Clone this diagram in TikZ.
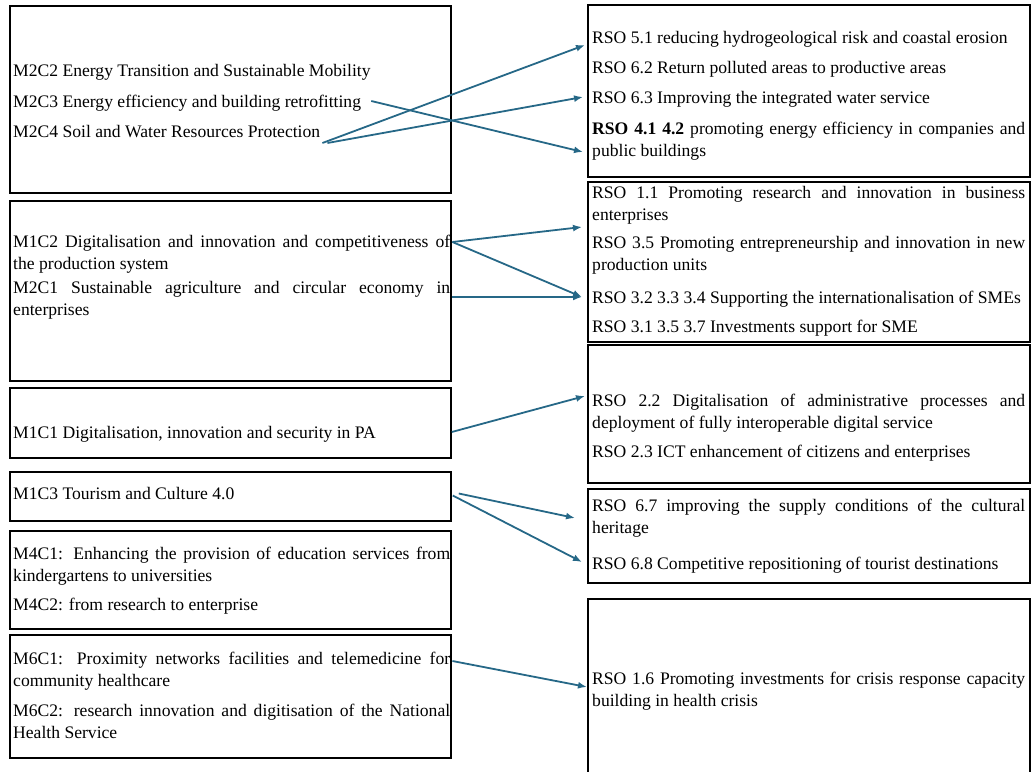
\documentclass[tikz,border=0pt]{standalone}
\usepackage{fontspec}
\setmainfont{Liberation Serif}
\usepackage{xcolor}
\usepackage{tikz}
\usetikzlibrary{arrows.meta,fit}
\definecolor{linkblue}{RGB}{38,104,135}

\begin{document}
\begin{tikzpicture}[
    x=1pt, y=-1pt,
    lbox/.style={draw, line width=1.5pt, inner sep=0pt},
    rbox/.style={draw, line width=2.8pt, inner sep=0pt},
    litem/.style={
        anchor=base west,
        inner xsep=2pt, inner ysep=0pt,
        font=\fontsize{17.6}{22}\selectfont
    },
    lpar/.style={litem, text width=437pt, align=justify},
    ritem/.style={
        anchor=base west,
        inner xsep=4pt, inner ysep=0pt,
        text width=433pt, align=justify,
        font=\fontsize{17.6}{22}\selectfont
    },
    link/.style={-{Latex[length=9pt,width=7pt]}, line width=1.8pt, draw=linkblue}
]
\useasboundingbox (0,0) rectangle (1033,771);

% missions and components
\node[litem] (m2c2) at (11,76) {M2C2 Energy Transition and Sustainable Mobility};
\node[litem] (m2c3) at (11,107) {M2C3 Energy efficiency and building retrofitting};
\node[litem] (m2c4) at (11,137) {M2C4 Soil and Water Resources Protection};
\node[lbox, fit={(10,6) (451,193)}] (boxA) {};

\node[lpar] (m1c2) at (11,247)
  {M1C2 Digitalisation and innovation and competitiveness of\linebreak the production system};
\node[lpar] (m2c1) at (11,293)
  {M2C1 Sustainable agriculture and circular economy in\linebreak enterprises};
\node[lbox, fit={(10,201) (451,381)}] (boxB) {};

\node[litem] (m1c1) at (11,438) {M1C1 Digitalisation, innovation and security in PA};
\node[lbox, fit={(10,388) (451,458)}] (boxC) {};

\node[litem] (m1c3) at (11,499) {M1C3 Tourism and Culture 4.0};
\node[lbox, fit={(10,472) (451,521)}] (boxD) {};

\node[lpar] (m4c1) at (11,559)
  {M4C1: Enhancing the provision of education services from\linebreak kindergartens to universities};
\node[lpar] (m4c2) at (11,610) {M4C2: from research to enterprise};
\node[lbox, fit={(10,531) (451,629)}] (boxE) {};

\node[lpar] (m6c1) at (11,664)
  {M6C1: Proximity networks facilities and telemedicine for\linebreak community healthcare};
\node[lpar] (m6c2) at (11,716)
  {M6C2: research innovation and digitisation of the National\linebreak Health Service};
\node[lbox, fit={(10,635) (451,758)}] (boxF) {};

% regional specific objectives
\node[ritem] (rso51) at (588,43) {RSO 5.1 reducing hydrogeological risk and coastal erosion};
\node[ritem] (rso62) at (588,73) {RSO 6.2 Return polluted areas to productive areas};
\node[ritem] (rso63) at (588,103) {RSO 6.3 Improving the integrated water service};
\node[ritem] (rso41) at (588,134)
  {\textbf{RSO 4.1 4.2} promoting energy efficiency in companies and\linebreak public buildings};
\node[rbox, fit={(588,5) (1030,177)}] (boxR1) {};

\node[ritem] (rso11) at (588,198)
  {RSO 1.1 Promoting research and innovation in business\linebreak enterprises};
\node[ritem] (rso35) at (588,248)
  {RSO 3.5 Promoting entrepreneurship and innovation in new\linebreak production units};
\node[ritem] (rso32) at (588,303) {RSO 3.2 3.3 3.4 Supporting the internationalisation of SMEs};
\node[ritem] (rso31) at (588,332) {RSO 3.1 3.5 3.7 Investments support for SME};
\node[rbox, fit={(588,182) (1030,342)}] (boxR2) {};

\node[ritem] (rso22) at (588,406)
  {RSO 2.2 Digitalisation of administrative processes and\linebreak deployment of fully interoperable digital service};
\node[ritem] (rso23) at (588,457) {RSO 2.3 ICT enhancement of citizens and enterprises};
\node[rbox, fit={(588,345) (1030,483)}] (boxR3) {};

\node[ritem] (rso67) at (588,511)
  {RSO 6.7 improving the supply conditions of the cultural\linebreak heritage};
\node[ritem] (rso68) at (588,569) {RSO 6.8 Competitive repositioning of tourist destinations};
\node[rbox, fit={(588,489) (1030,583)}] (boxR4) {};

\node[ritem] (rso16) at (588,684)
  {RSO 1.6 Promoting investments for crisis response capacity\linebreak building in health crisis};
\node[rbox, fit={(588,599) (1030,778)}] (boxR5) {};

\draw[link] ([yshift=-6pt]m2c4.base east) -- ([xshift=-3pt,yshift=-2pt]rso51.base west);
\draw[link] ([xshift=5pt,yshift=-6pt]m2c4.base east) -- ([xshift=-5pt,yshift=6pt]rso63.base west);
\draw[link] ([xshift=8pt,yshift=6pt]m2c3.base east) -- ([xshift=-5pt,yshift=-18pt]rso41.base west);
\draw[link] ([yshift=5pt]m1c2.base east) -- ([xshift=-6pt,yshift=-29pt]rso11.base west);
\draw[link] ([yshift=5pt]m1c2.base east) -- ([xshift=-6pt,yshift=6pt]rso32.base west);
\draw[link] ([yshift=-4pt]m2c1.base east) -- ([xshift=-6pt,yshift=6pt]rso32.base west);
\draw[link] ([yshift=-9pt]boxC.east) -- ([xshift=-3pt,yshift=10pt]rso22.base west);
\draw[link] ([xshift=7pt,yshift=3pt]boxD.east) -- ([xshift=-13pt,yshift=-7pt]rso67.base west);
\draw[link] ([xshift=1pt,yshift=1pt]boxD.east) -- ([xshift=-6pt,yshift=7pt]rso68.base west);
\draw[link] ([yshift=3pt]m6c1.base east) -- ([xshift=-1pt,yshift=-3pt]rso16.base west);
\end{tikzpicture}
\end{document}
